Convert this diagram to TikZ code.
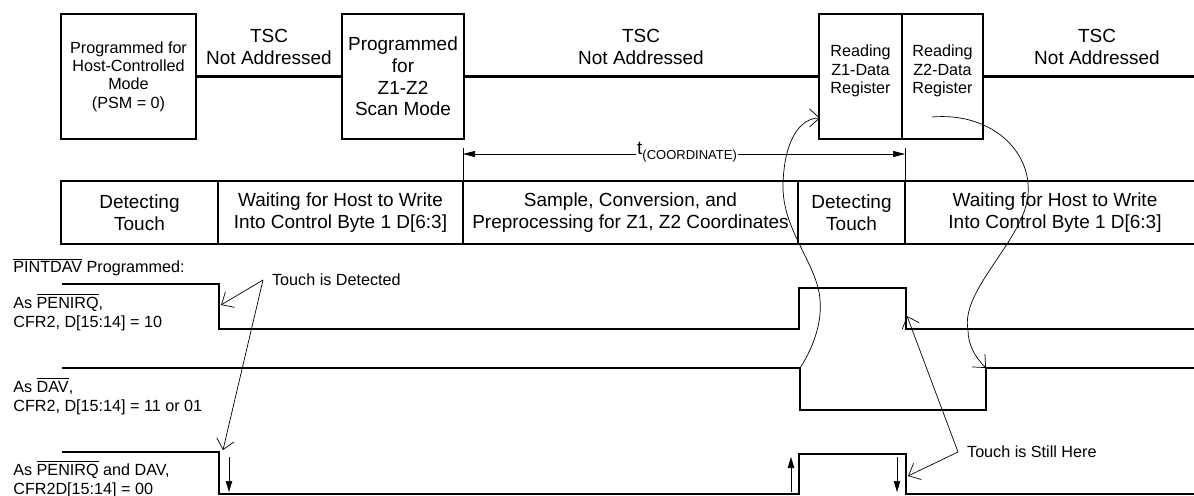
\documentclass[tikz,border=0pt]{standalone}
\usepackage{fontspec}
\setmainfont{Liberation Sans}
\usetikzlibrary{arrows.meta}

\begin{document}
\begin{tikzpicture}[x=0.2mm, y=-0.2mm,
  big/.style={font=\fontsize{10.8}{12.4}\selectfont},
  small/.style={font=\fontsize{9.2}{10.4}\selectfont},
  box/.style={draw, line width=1.4pt, inner sep=1pt, align=center, minimum height=25mm},
  cell/.style={draw, line width=1.4pt, inner sep=1pt, align=center, minimum height=12.6mm, big},
  sigtext/.style={font=\fontsize{9.2}{10.8}\selectfont, anchor=west, align=left, inner sep=0pt},
  wave/.style={line width=1.4pt},
  note/.style={thin, -{Straight Barb[length=2mm,width=3.6mm]}},
  solidarrow/.style={thin, -{Triangle[length=2.2mm,width=1.3mm]}}]

\useasboundingbox (0,0) rectangle (1194,496);

% top row: what the host does
\node[box, small, minimum width=27mm] (hostbox) at (128.5,76.5) {Programmed for\\Host-Controlled\\Mode\\(PSM = 0)};
\node[box, big, minimum width=24.4mm] (scanbox) at (403,76.5) {Programmed\\for\\Z1-Z2\\Scan Mode};
\node[box, minimum width=16.6mm] (zonebox) at (860.5,76.5) {};
\node[box, minimum width=16.2mm] (ztwobox) at (942.5,76.5) {};
\node[small, align=center] (zonetext) at (860.5,71) {Reading\\Z1-Data\\Register};
\node[small, align=center] (ztwotext) at (942.5,71) {Reading\\Z2-Data\\Register};
\coordinate (topend) at (1200,76.5);

\draw[line width=1.3pt] (hostbox) -- (scanbox);
\draw[line width=1.3pt] (scanbox) -- (zonebox);
\draw[line width=1.3pt] (ztwobox.east) -- (topend);

\node[big, align=center] (tsca) at (269,47) {TSC\\Not Addressed};
\node[big, align=center] (tscb) at (641,47) {TSC\\Not Addressed};
\node[big, align=center] (tscc) at (1097,47) {TSC\\Not Addressed};

% t(coordinate)
\coordinate (tleft) at (463,154);
\coordinate (tright) at (905,154);
\draw[thin] (463,148) -- (463,181);
\draw[thin] (905,148) -- (905,181);
\draw[thin, {Triangle[length=2.4mm,width=1.2mm]}-{Triangle[length=2.4mm,width=1.2mm]}] (tleft) -- (tright);
\node[big, fill=white, inner sep=0.5pt] (tcoord) at (687,152) {t\raisebox{-0.45ex}{\fontsize{7.4}{8}\selectfont(COORDINATE)}};

% middle row: what the TSC does
\node[cell, minimum width=31.4mm] (detecta) at (139.5,212.5) {Detecting\\Touch};
\node[cell, minimum width=49mm] (waita) at (340.5,212.5) {Waiting for Host to Write\\Into Control Byte 1 D[6:3]};
\node[cell, minimum width=67mm] (sample) at (630.5,212.5) {Sample, Conversion, and\\Preprocessing for Z1, Z2 Coordinates};
\node[cell, minimum width=21.4mm] (detectb) at (851.5,212.5) {Detecting\\Touch};
\node[cell, minimum width=60mm] (waitb) at (1055,212.5) {Waiting for Host to Write\\Into Control Byte 1 D[6:3]};

% signals
\node[sigtext] (pintdav) at (13,267) {$\overline{\mbox{PINTDAV}}$ Programmed:};
\node[sigtext] (penirq) at (13,312) {As $\overline{\mbox{PENIRQ}}$,\\CFR2, D[15:14] = 10};
\node[sigtext] (dav) at (13,396) {As $\overline{\mbox{DAV}}$,\\CFR2, D[15:14] = 11 or 01};
\node[sigtext] (both) at (13,479) {As $\overline{\mbox{PENIRQ}}$ and DAV,\\CFR2D[15:14] = 00};

\draw[wave] (62,284) -- (219,284) -- (219,329) -- (799,329) -- (799,288) -- (906,288) -- (906,329) -- (1200,329);
\draw[wave] (62,368) -- (800,368) -- (800,410) -- (986,410) -- (986,368) -- (1200,368);
\draw[wave] (62,452) -- (219,452) -- (219,494) -- (799,494) -- (799,454) -- (906,454) -- (906,494) -- (1200,494);

\draw[solidarrow] (229,457) -- (229,492);
\draw[solidarrow] (791,492) -- (791,457);
\draw[solidarrow] (897,457) -- (897,492);

\coordinate (penfall) at (221,305);
\coordinate (bothfall) at (223,450);
\coordinate (penrise) at (907,316);
\coordinate (bothrise) at (908,476);
\coordinate (davfall) at (800,368);
\coordinate (davrise) at (986,368);
\coordinate (zonein) at (820,118);
\coordinate (ztwoout) at (932,117);

% touch notes
\node[small, anchor=west, inner xsep=5pt] (detected) at (263,280) {Touch is Detected};
\draw[note] (detected.west) -- (penfall);
\draw[note] (detected.west) -- (bothfall);
\node[small, anchor=west, inner xsep=5pt] (stillhere) at (958,452) {Touch is Still Here};
\draw[note] (stillhere.west) -- (penrise);
\draw[note] (stillhere.west) -- (bothrise);

% reading the registers
\draw[note] (davfall) .. controls (815,345) and (822,320) .. (820,300) .. controls (818,265) and (782,230) .. (783,185) .. controls (784,140) and (800,118) .. (zonein);
\draw[note] (ztwoout) .. controls (990,112) and (1032,150) .. (1028,195) .. controls (1024,240) and (960,290) .. (968,330) .. controls (968,345) and (975,357) .. (davrise);

\end{tikzpicture}
\end{document}
